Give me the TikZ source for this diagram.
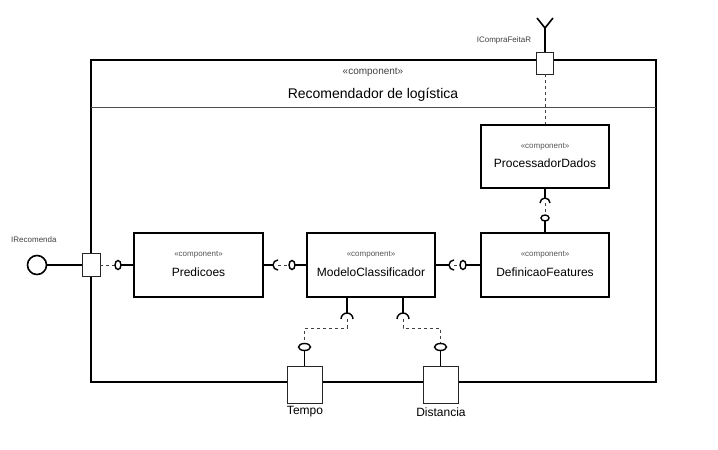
\documentclass[tikz,border=0pt]{standalone}
\usepackage{fontspec}
\setmainfont{Liberation Sans}
\usetikzlibrary{shapes.geometric}
\definecolor{stereo}{HTML}{555555}
\definecolor{lbl}{HTML}{404040}
\begin{document}
\begin{tikzpicture}[x=1pt,y=1pt,
  comp/.style={draw, line width=1.6pt, fill=white, minimum width=128pt, minimum height=63pt, inner sep=0pt},
  portbox/.style={draw=black!85, line width=0.9pt, fill=white, inner sep=0pt},
  stereotxt/.style={font=\fontsize{8}{9}\selectfont, text=stereo, inner sep=0pt},
  nametxt/.style={font=\fontsize{12}{14}\selectfont, inner sep=0pt},
  anch/.style={rectangle, inner sep=0pt, outer sep=0pt},
  ballline/.style={line width=1.4pt, fill=white},
  wire/.style={line width=1.6pt},
  dwire/.style={line width=0.9pt, dashed, dash pattern=on 3pt off 3pt, draw=black!75},
  sock/.style={line width=1.4pt}
]
\useasboundingbox (0,0) rectangle (718,-450);

% outer component
\node[draw, line width=1.6pt, minimum width=565pt, minimum height=322pt, inner sep=0pt] (outer) at (373.5,-221) {};
\draw[line width=0.8pt, draw=black!70] (91,-107) -- (656,-107);
\node[font=\fontsize{10}{12}\selectfont, text=black!75, inner sep=0pt] (outst) at (373,-72) {«component»};
\node[font=\fontsize{14}{16}\selectfont, inner sep=0pt] (title) at (373,-95) {Recomendador de logística};

% components
\node[comp] (proc) at (545,-156.5) {};
\node[comp, minimum height=64pt] (defn) at (545,-265) {};
\node[comp, minimum height=64pt] (modelo) at (371,-265) {};
\node[comp, minimum height=64pt, minimum width=129pt] (pred) at (198.5,-265) {};

\foreach \c/\t in {proc/ProcessadorDados, defn/DefinicaoFeatures, modelo/ModeloClassificador, pred/Predicoes}{
  \node[stereotxt] at ([yshift=10pt]\c.center) {«component»};
  \node[nametxt] at ([yshift=-7pt]\c.center) {\t};
}

% top port
\node[portbox, minimum width=17pt, minimum height=22pt] (ptop) at (545,-63) {};
\coordinate (fork) at (545,-28);
\coordinate (forkl) at (537,-18);
\coordinate (forkr) at (553,-18);
\draw[wire] (ptop.north) -- (fork);
\draw[wire] (forkl) -- (fork) -- (forkr);
\node[font=\fontsize{8}{9}\selectfont, text=lbl, inner sep=0pt] (lcompra) at (504,-40) {ICompraFeitaR};
\draw[dwire] (ptop.south) -- (proc.north);

% balls (anchor nodes sized like the ellipses)
\node[anch, minimum width=8pt, minimum height=6pt] (b1) at (545,-218) {};
\node[anch, minimum width=6pt, minimum height=9pt] (b0) at (118,-265) {};
\node[anch, minimum width=6pt, minimum height=9pt] (b2) at (292,-265) {};
\node[anch, minimum width=6pt, minimum height=9pt] (b3) at (463,-265) {};
\node[anch, minimum width=12pt, minimum height=7pt] (b4) at (304.5,-347) {};
\node[anch, minimum width=12pt, minimum height=7pt] (b5) at (440.5,-347) {};

% proc - defn
\coordinate (s1) at (545,-203);
\draw[wire] (proc.south) -- (545,-198);
\draw[sock] (540,-203) arc[start angle=180, end angle=0, radius=5];
\draw[dwire] (s1) -- (b1.north);
\draw[wire] (b1.south) -- (defn.north);
\draw[ballline] (b1.center) ellipse[x radius=4, y radius=3];

% left port
\node[portbox, minimum width=18pt, minimum height=23pt] (pleft) at (91,-265) {};
\node[draw, line width=1.6pt, circle, minimum size=19pt, inner sep=0pt] (lolli) at (37,-265) {};
\draw[wire] (lolli.east) -- (pleft.west);
\node[font=\fontsize{8}{9}\selectfont, text=lbl, inner sep=0pt, anchor=west] (lrec) at (11,-240) {IRecomenda};
\draw[dwire] (pleft.east) -- (b0.west);
\draw[wire] (b0.east) -- (pred.west);
\draw[ballline] (b0.center) ellipse[x radius=3, y radius=4.5];

% pred - modelo
\coordinate (s2) at (278,-265);
\draw[wire] (pred.east) -- (273,-265);
\draw[sock] (278,-260) arc[start angle=90, end angle=270, radius=5];
\draw[dwire] (s2) -- (b2.west);
\draw[wire] (b2.east) -- (modelo.west);
\draw[ballline] (b2.center) ellipse[x radius=3, y radius=4.5];

% modelo - defn
\coordinate (s3) at (454,-265);
\draw[wire] (modelo.east) -- (449,-265);
\draw[sock] (454,-260) arc[start angle=90, end angle=270, radius=5];
\draw[dwire] (s3) -- (b3.west);
\draw[wire] (b3.east) -- (defn.west);
\draw[ballline] (b3.center) ellipse[x radius=3, y radius=4.5];

% bottom ports
\node[portbox, minimum width=35pt, minimum height=37pt] (tempo) at (304.5,-384.5) {};
\node[portbox, minimum width=35pt, minimum height=37pt] (dist) at (440.5,-384.5) {};
\node[nametxt] (ltempo) at (305,-412) {Tempo};
\node[nametxt] (ldist) at (441,-412) {Distancia};

\draw[wire] (347,-297) -- (347,-313);
\draw[sock] (341,-319) arc[start angle=180, end angle=0, radius=6];
\draw[wire] (403,-297) -- (403,-313);
\draw[sock] (397,-319) arc[start angle=180, end angle=0, radius=6];
\draw[dwire] (347,-319) -- (347,-328) -- (304.5,-328) -- (b4.north);
\draw[dwire] (403,-319) -- (403,-328) -- (440.5,-328) -- (b5.north);
\draw[wire] (b4.south) -- (tempo.north);
\draw[wire] (b5.south) -- (dist.north);
\draw[ballline] (b4.center) ellipse[x radius=6, y radius=3.5];
\draw[ballline] (b5.center) ellipse[x radius=6, y radius=3.5];
\end{tikzpicture}
\end{document}
